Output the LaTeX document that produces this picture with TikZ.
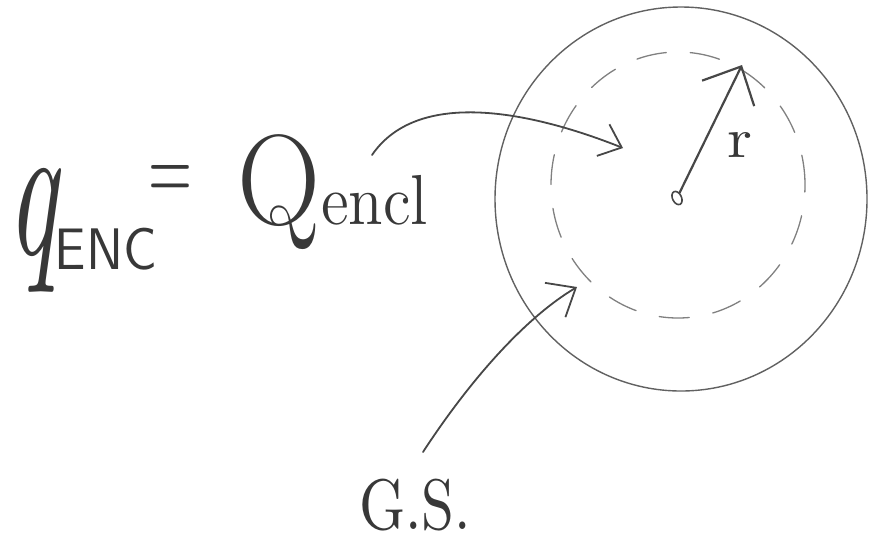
\documentclass[tikz,border=0pt]{standalone}
\usepackage{graphicx}
\usetikzlibrary{arrows.meta,shapes.geometric}
\tikzset{
  pencil/.style={line width=1.8pt, draw=black!72, line cap=round, line join=round},
  thinpencil/.style={line width=1.4pt, draw=black!62, line cap=round},
  dashring/.style={line width=1.3pt, draw=black!50, dash pattern=on 30pt off 24pt, line cap=round},
  txt/.style={inner sep=0pt, outer sep=0pt, text=black!78},
}
\begin{document}
\begin{tikzpicture}[x=1pt,y=-1pt]
\useasboundingbox (0,0) rectangle (869,550);

% left formula
\node[txt] (q)   at (33,230)  {\resizebox*{50pt}{124pt}{\itshape q}};
\node[txt] (enc) at (106,249) {\resizebox*{102pt}{42pt}{\sffamily ENC}};
\node[txt] (eq)  at (170,183) {\resizebox*{44pt}{35pt}{$=$}};
\node[txt] (Q)   at (333,192) {\resizebox*{190pt}{115pt}{\fontsize{20}{20}\selectfont Q\fontsize{11}{11}\selectfont encl}};

% sphere and Gaussian surface
\draw[thinpencil] (681,199) ellipse [x radius=186pt, y radius=192pt];
\draw[dashring] (678,185) ellipse [x radius=127pt, y radius=133pt];

% radius
\node[ellipse, draw=black!72, line width=1.6pt, minimum width=14pt, minimum height=9pt, inner sep=0pt, rotate=-64] (c) at (677,198) {};
\coordinate (rtip) at (742,65);
\draw[pencil, line width=2.2pt, -{Straight Barb[length=30pt,width=58pt]}] (c) -- (rtip);
\node[txt] (r) at (740,145) {\resizebox*{25pt}{25pt}{r}};

% arrow from Q_encl into the Gaussian surface
\coordinate (qa) at (372,155);
\coordinate (qt) at (623,148);
\draw[pencil, -{Straight Barb[length=20pt,width=34pt]}] (qa) .. controls (420,85) and (540,115) .. (qt);

% G.S. label and arrow
\node[txt] (gs) at (415,505) {\resizebox*{112pt}{52pt}{G.S.}};
\coordinate (gst) at (423,452);
\coordinate (gsh) at (577,287);
\draw[pencil, -{Straight Barb[length=24pt,width=40pt]}] (gst) .. controls (470,380) and (525,318) .. (gsh);
\end{tikzpicture}
\end{document}
